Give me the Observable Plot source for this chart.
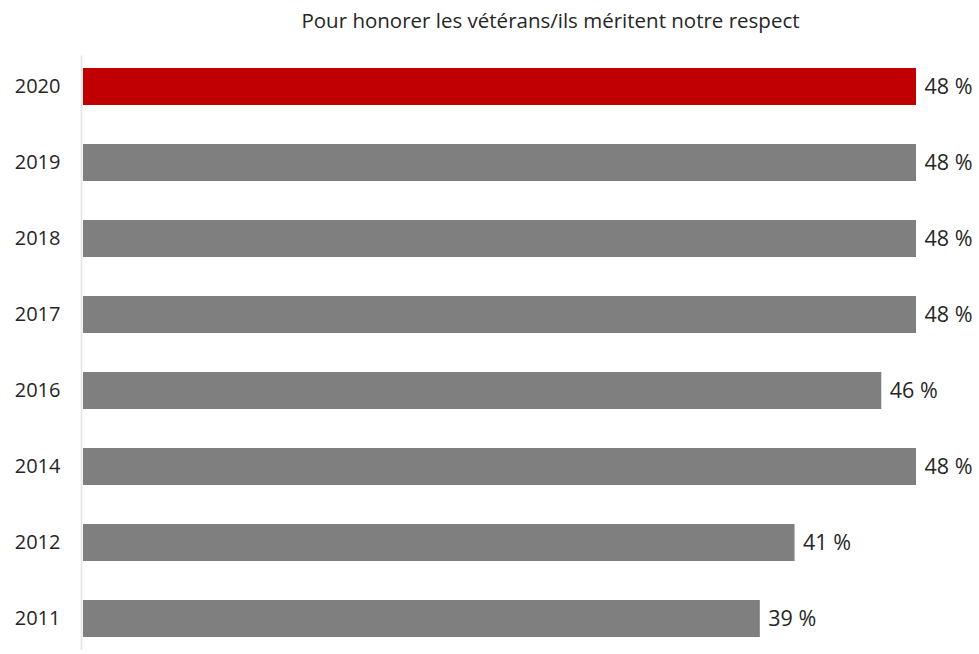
<!DOCTYPE html>
<html>
<head>
<meta charset="utf-8">
<script src="https://cdn.jsdelivr.net/npm/d3@7"></script>
<script src="https://cdn.jsdelivr.net/npm/@observablehq/plot@0.6"></script>
<style>
  html, body { margin: 0; padding: 0; background: #fff; }
  #wrap { width: 979px; height: 654px; position: relative; overflow: hidden; }
  #title { height: 44px; line-height: 40px; font-family: "Open Sans", sans-serif; font-size: 20.5px; color: #262626; text-align: center; padding-left: 122px; box-sizing: border-box; white-space: nowrap; }
</style>
</head>
<body>
<div id="wrap">
  <div id="title">Pour honorer les vétérans/ils méritent notre respect</div>
  <div id="chart"></div>
</div>
<script>
const years = ["2020", "2019", "2018", "2017", "2016", "2014", "2012", "2011"];
const values = [48, 48, 48, 48, 46, 48, 41, 39];
const highlight = "2020";

const data = years.map((y, i) => ({year: y, value: values[i]}));

const chart = Plot.plot({
  width: 979,
  height: 610,
  marginLeft: 83,
  marginRight: 63,
  marginTop: 11.5,
  marginBottom: 4,
  style: {fontFamily: "Open Sans, sans-serif", fontSize: "20px", color: "#262626", background: "#fff"},
  x: {domain: [0, 48], axis: null},
  y: {domain: years, paddingInner: 0.516, paddingOuter: 0.15, label: null},
  marks: [
    Plot.barX(data, {x: "value", y: "year", fill: d => d.year === highlight ? "#C00000" : "#7F7F7F"}),
    Plot.ruleX([0], {stroke: "#e3e3e3", strokeWidth: 1.5, dx: -2}),
    Plot.axisY({tickSize: 0, tickPadding: 23, fontSize: 20, fill: "#262626"}),
    Plot.text(data, {x: "value", y: "year", text: d => `${d.value} %`, textAnchor: "start", dx: 8, fontSize: 21.5, fill: "#262626"})
  ]
});
document.getElementById("chart").appendChild(chart);
</script>
</body>
</html>
